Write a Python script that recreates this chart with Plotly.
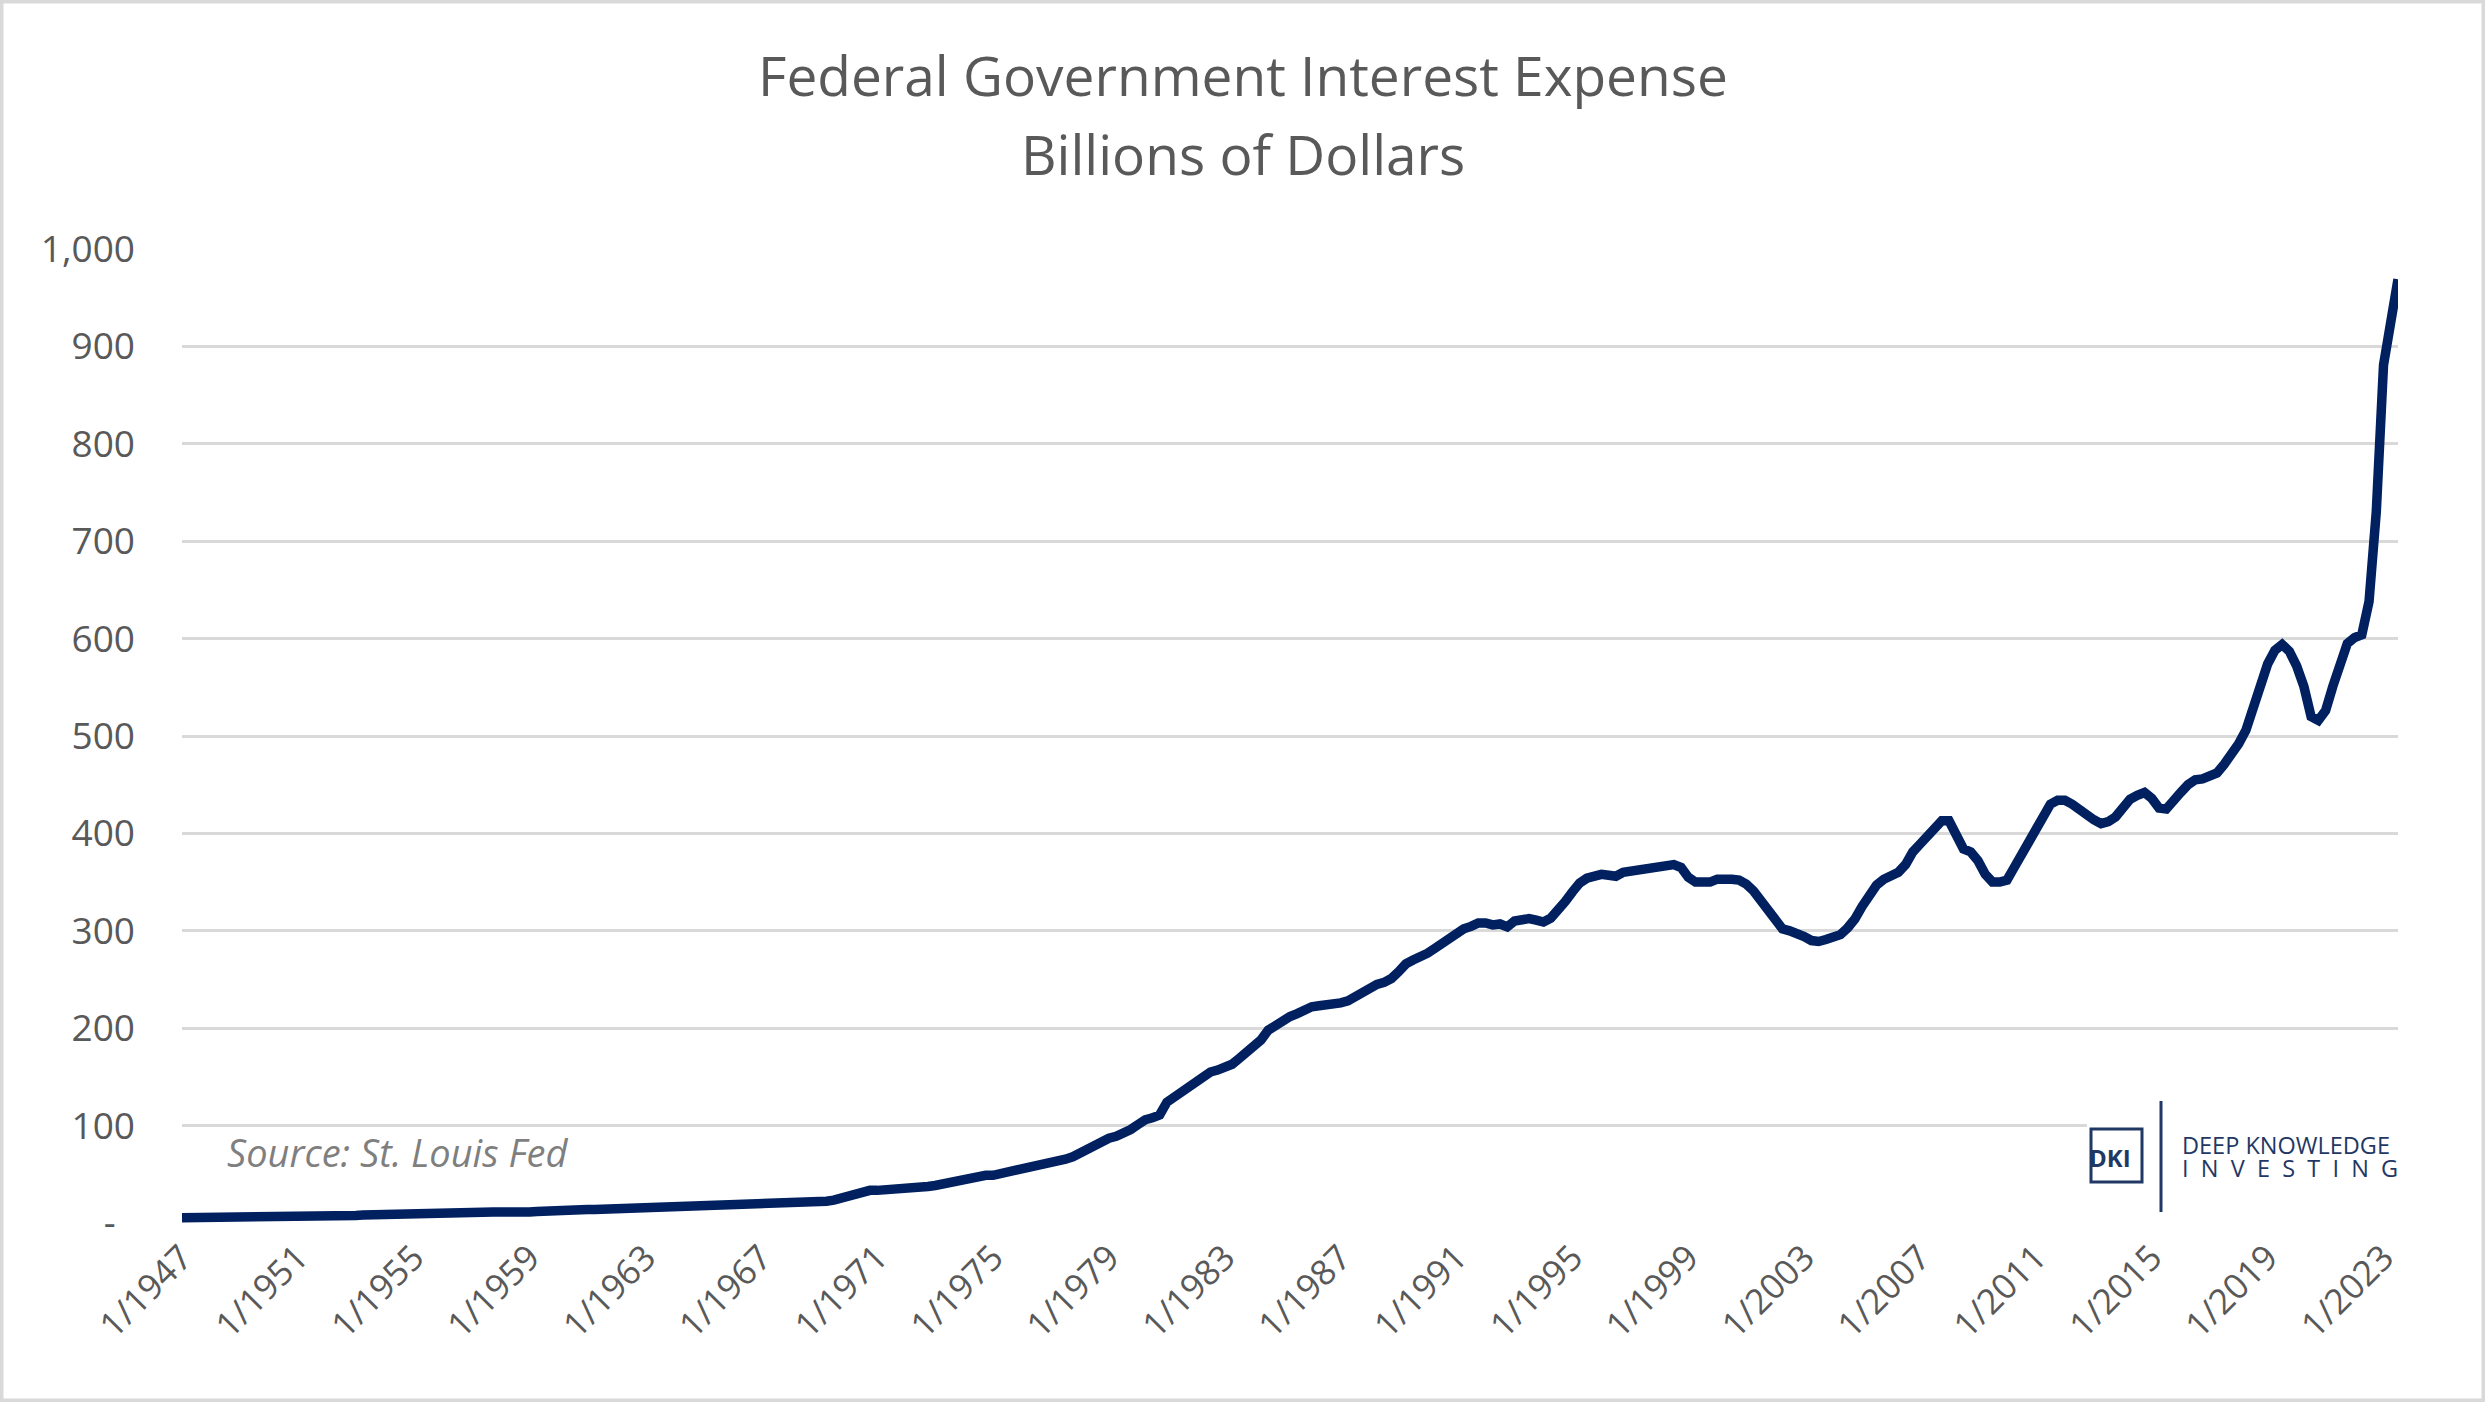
import plotly.graph_objects as go

# ---------------- data ----------------
years = list(range(1947, 2024))
quarter_months = [1, 4, 7, 10]

# Federal government interest expense, billions of dollars (quarterly, 1947Q1 - 2023Q3)
interest_expense = [
    5.4, 5.4, 5.5, 5.5,        # 1947
    5.5, 5.5, 5.6, 5.6,        # 1948
    5.6, 5.7, 5.7, 5.7,        # 1949
    5.8, 6.0, 6.4, 6.8,        # 1950
    7.0, 7.0, 7.1, 7.1,        # 1951
    7.2, 7.2, 7.3, 7.3,        # 1952
    7.6, 8.1, 8.4, 8.5,        # 1953
    8.5, 8.4, 8.5, 8.6,        # 1954
    8.7, 9.0, 9.6, 10.0,       # 1955
    10.0, 10.1, 10.2, 10.3,    # 1956
    10.5, 10.7, 11.0, 11.3,    # 1957
    11.2, 10.8, 10.6, 10.8,    # 1958
    11.2, 11.8, 12.4, 12.8,    # 1959
    13.4, 13.8, 14.0, 14.0,    # 1960
    13.9, 13.9, 14.1, 14.3,    # 1961
    14.6, 15.0, 15.3, 15.5,    # 1962
    15.7, 16.0, 16.3, 16.5,    # 1963
    16.8, 17.0, 17.2, 17.4,    # 1964
    17.6, 17.8, 18.0, 18.2,    # 1965
    18.5, 18.8, 19.2, 19.5,    # 1966
    19.7, 19.8, 20.0, 20.3,    # 1967
    20.6, 21.0, 21.5, 21.8,    # 1968
    22.0, 22.4, 23.5, 25.5,    # 1969
    28.0, 30.5, 32.5, 33.5,    # 1970
    33.5, 33.8, 34.2, 35.0,    # 1971
    35.8, 36.3, 36.8, 37.5,    # 1972
    38.5, 40.0, 42.0, 44.0,    # 1973
    45.0, 46.0, 47.5, 49.0,    # 1974
    49.0, 50.5, 52.5, 54.5,    # 1975
    56.0, 57.5, 59.0, 60.5,    # 1976
    62.0, 63.5, 65.5, 68.0,    # 1977
    72.0, 77.0, 80.5, 84.0,    # 1978
    87.0, 89.0, 92.0, 96.0,    # 1979
    101, 106, 108, 111,        # 1980
    124, 129, 136, 141,        # 1981
    146, 150, 155, 157,        # 1982
    159, 163, 169, 175,        # 1983
    180, 188, 198, 203,        # 1984
    207, 212, 215, 219,        # 1985
    222, 223, 223.5, 224,      # 1986
    226, 228, 232, 237,        # 1987
    242, 245, 247, 251,        # 1988
    258, 266, 270, 273,        # 1989
    277, 282, 287, 294,        # 1990
    298, 302, 304.5, 308,      # 1991
    308, 306, 307, 304,        # 1992
    310, 312, 312.5, 311,      # 1993
    309, 313, 320, 330,        # 1994
    340, 349, 354, 357,        # 1995
    358, 357, 356, 360,        # 1996
    361, 362, 364, 366,        # 1997
    367, 368, 368, 365,        # 1998
    355, 350, 349, 350,        # 1999
    353, 354, 353, 352,        # 2000
    348, 341, 332, 322,        # 2001
    312, 302, 300, 298,        # 2002
    294, 290, 289, 291,        # 2003
    293, 296, 303, 312,        # 2004
    325, 336, 347, 353,        # 2005
    357, 360, 368, 381,        # 2006
    389, 398, 406, 413,        # 2007
    413, 396, 384, 381,        # 2008
    372, 358, 350, 350,        # 2009
    352, 365, 379, 391,        # 2010
    402, 416, 430, 434,        # 2011
    434, 430, 424, 419,        # 2012
    414, 410, 412, 417,        # 2013
    426, 435, 439, 442,        # 2014
    436, 426, 425, 432,        # 2015
    442, 450, 455, 456,        # 2016
    460, 462, 471, 480,        # 2017
    492, 506, 528, 551,        # 2018
    574, 588, 594, 587,        # 2019
    572, 551, 520, 516,        # 2020
    526, 551, 574, 595,        # 2021
    601, 604, 638, 730,        # 2022
    881, 931, 969,             # 2023
]

period_labels = [f"{m}/{y}" for y in years for m in quarter_months][:len(interest_expense)]
x_tick_labels = [f"1/{y}" for y in range(1947, 2024, 4)]

y_tick_values = [0, 100, 200, 300, 400, 500, 600, 700, 800, 900, 1000]
y_tick_labels = ["-\u00a0\u00a0", "100", "200", "300", "400", "500", "600", "700", "800", "900", "1,000"]

title_lines = ["Federal Government Interest Expense", "Billions of Dollars"]
source_text = "Source: St. Louis Fed"

# ---------------- layout helpers (pixel -> paper) ----------------
W, H = 2485, 1402
L, R, T, B = 182, 87, 249, 179
PW, PH = W - L - R, H - T - B


def px(xp):
    return (xp - L) / PW


def py(yp):
    return (H - B - yp) / PH


TEXT = "#595959"
GRID = "#d9d9d9"
NAVY = "#002060"
LOGO = "#1f3864"
FONT = "Open Sans"

fig = go.Figure()
fig.add_trace(go.Scatter(
    x=period_labels, y=interest_expense, mode="lines",
    line=dict(color=NAVY, width=9.5), hoverinfo="x+y", showlegend=False,
))

fig.update_layout(
    width=W, height=H,
    margin=dict(l=L, r=R, t=T, b=B),
    paper_bgcolor="white", plot_bgcolor="white",
    font=dict(family=FONT, color=TEXT),
    xaxis=dict(
        type="category", range=[0, len(interest_expense) - 1],
        tickmode="array", tickvals=x_tick_labels, ticktext=x_tick_labels,
        tickangle=-45, tickfont=dict(size=35, color=TEXT),
        showgrid=False, zeroline=False, showline=False, ticks="",
        ticklabelstandoff=6,
    ),
    yaxis=dict(
        range=[0, 1000], tickmode="array", tickvals=y_tick_values, ticktext=y_tick_labels,
        tickfont=dict(size=37, color=TEXT), showgrid=True, gridcolor=GRID, gridwidth=2.5,
        zeroline=False, showline=False, ticks="", ticklabelstandoff=46,
    ),
)

annotations = [
    dict(text=title_lines[0], x=px(W / 2), y=py(75), xref="paper", yref="paper",
         showarrow=False, xanchor="center", yanchor="middle", font=dict(size=55, color=TEXT)),
    dict(text=title_lines[1], x=px(W / 2), y=py(153), xref="paper", yref="paper",
         showarrow=False, xanchor="center", yanchor="middle", font=dict(size=55, color=TEXT)),
    dict(text=f"<i>{source_text}</i>", x=px(225), y=py(1152), xref="paper", yref="paper",
         showarrow=False, xanchor="left", yanchor="middle", font=dict(size=38, color="#7f7f7f")),
    dict(text="<b>DKI</b>", x=px(2110), y=py(1157), xref="paper", yref="paper",
         showarrow=False, xanchor="center", yanchor="middle", font=dict(size=24, color=LOGO)),
    dict(text="DEEP KNOWLEDGE", x=px(2180), y=py(1145), xref="paper", yref="paper",
         showarrow=False, xanchor="left", yanchor="middle", font=dict(size=23.5, color=LOGO)),
    dict(text="\u00a0\u00a0".join("INVESTING"), x=px(2180), y=py(1168), xref="paper", yref="paper",
         showarrow=False, xanchor="left", yanchor="middle", font=dict(size=23.5, color=LOGO)),
]
fig.update_layout(annotations=annotations)

shapes = [
    # outer light-gray frame
    dict(type="rect", xref="paper", yref="paper", x0=px(0), x1=px(W), y0=py(H), y1=py(0),
         line=dict(color=GRID, width=7), fillcolor="rgba(0,0,0,0)", layer="above"),
    # logo white background
    dict(type="rect", xref="paper", yref="paper", x0=px(2087), x1=px(2402), y0=py(1214), y1=py(1092),
         line=dict(width=0), fillcolor="white", layer="above"),
    # DKI box
    dict(type="rect", xref="paper", yref="paper", x0=px(2091), x1=px(2142), y0=py(1182), y1=py(1129),
         line=dict(color=LOGO, width=3), fillcolor="rgba(0,0,0,0)", layer="above"),
    # logo divider
    dict(type="line", xref="paper", yref="paper", x0=px(2161), x1=px(2161), y0=py(1212), y1=py(1101),
         line=dict(color=LOGO, width=3), layer="above"),
]
fig.update_layout(shapes=shapes)

fig.write_html(
    "out.html",
    config={"displayModeBar": False},
    post_script="document.body.style.margin='0px';document.documentElement.style.overflow='hidden';",
)
